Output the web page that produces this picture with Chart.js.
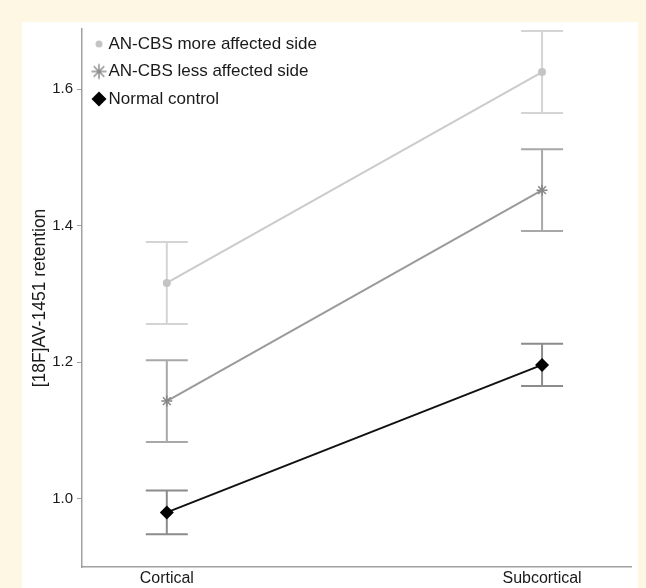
<!DOCTYPE html>
<html>
<head>
<meta charset="utf-8">
<script src="https://cdn.jsdelivr.net/npm/chart.js@4"></script>
<style>
  html, body { margin: 0; padding: 0; background: #fdf7e3; }
  #panel { position: absolute; left: 22px; top: 22px; width: 616px; height: 566px; background: #ffffff; }
</style>
</head>
<body>
<div id="panel"><canvas id="myChart" width="616" height="566"></canvas></div>
<script>
'use strict';

// data
const categories = ['Cortical', 'Subcortical'];
const yTicks = [1.0, 1.2, 1.4, 1.6];
const moreAffected = [1.316, 1.625];
const moreAffectedErr = [0.060, 0.060];
const lessAffected = [1.143, 1.452];
const lessAffectedErr = [0.060, 0.060];
const normalControl = [0.980, 1.196];
const normalControlErr = [0.032, 0.031];

const fontFamily = '"Liberation Sans", Arial, sans-serif';

function toPoints(values) {
  return values.map((v, i) => ({ x: i, y: v }));
}

// small canvas used as legend marker so each one can have its own size
function legendMarker(style, radius, fill, stroke, lineWidth) {
  const c = document.createElement('canvas');
  c.width = 20;
  c.height = 20;
  const ctx = c.getContext('2d');
  ctx.fillStyle = fill;
  ctx.strokeStyle = stroke;
  ctx.lineWidth = lineWidth;
  ctx.beginPath();
  Chart.helpers.drawPoint(ctx, { pointStyle: style, radius: radius, rotation: 0, borderWidth: lineWidth }, 10, 10);
  return c;
}

// draws the error bars (mean +/- err) behind the markers
const errorBars = {
  id: 'errorBars',
  beforeDatasetsDraw(chart) {
    const ctx = chart.ctx;
    const xs = chart.scales.x;
    const ys = chart.scales.y;
    chart.data.datasets.forEach((ds) => {
      ctx.save();
      ctx.strokeStyle = ds.errColor;
      ctx.lineWidth = 2;
      ds.data.forEach((p, i) => {
        const x = xs.getPixelForValue(p.x);
        const top = ys.getPixelForValue(p.y + ds.err[i]);
        const bot = ys.getPixelForValue(p.y - ds.err[i]);
        ctx.beginPath();
        ctx.moveTo(x, top);
        ctx.lineTo(x, bot);
        ctx.moveTo(x - 21, top);
        ctx.lineTo(x + 21, top);
        ctx.moveTo(x - 21, bot);
        ctx.lineTo(x + 21, bot);
        ctx.stroke();
      });
      ctx.restore();
    });
  }
};

// nudge the legend a bit inside the plot
const legendShift = {
  id: 'legendShift',
  afterLayout(chart) {
    chart.legend.left += 5.5;
    chart.legend.top += 3;
  }
};

const data = {
  datasets: [{
    label: 'AN-CBS more affected side',
    data: toPoints(moreAffected),
    err: moreAffectedErr,
    errColor: '#d4d4d4',
    borderColor: '#cbcbcb',
    backgroundColor: '#c4c4c4',
    pointStyle: 'circle',
    pointRadius: 4,
    pointBorderWidth: 0,
    borderWidth: 2,
    legendStyle: legendMarker('circle', 3.5, '#c4c4c4', '#c4c4c4', 0)
  },
  {
    label: 'AN-CBS less affected side',
    data: toPoints(lessAffected),
    err: lessAffectedErr,
    errColor: '#a8a8a8',
    borderColor: '#9a9a9a',
    backgroundColor: '#8a8a8a',
    pointBorderColor: '#888888',
    pointStyle: 'star',
    pointRadius: 5.5,
    pointBorderWidth: 1.5,
    borderWidth: 2,
    legendStyle: legendMarker('star', 7.5, '#909090', '#909090', 1.5)
  },
  {
    label: 'Normal control',
    data: toPoints(normalControl),
    err: normalControlErr,
    errColor: '#8c8c8c',
    borderColor: '#111111',
    backgroundColor: '#000000',
    pointStyle: 'rectRot',
    pointRadius: 7,
    pointBorderWidth: 0,
    borderWidth: 2,
    legendStyle: legendMarker('rectRot', 7.5, '#000000', '#000000', 0)
  }]
};

const config = {
  type: 'line',
  data: data,
  options: {
    responsive: false,
    animation: false,
    layout: { padding: { top: 0, right: 6, bottom: 0, left: 0 } },
    plugins: {
      tooltip: { enabled: false },
      legend: {
        position: 'chartArea',
        align: 'start',
        labels: {
          usePointStyle: true,
          boxWidth: 2,
          boxHeight: 2,
          padding: 10.5,
          color: '#1a1a1a',
          font: { family: fontFamily, size: 17 },
          generateLabels(chart) {
            return chart.data.datasets.map((ds, i) => ({
              text: ds.label,
              pointStyle: ds.legendStyle,
              fontColor: '#1a1a1a',
              datasetIndex: i,
              hidden: false,
              lineWidth: 0
            }));
          }
        }
      }
    },
    scales: {
      x: {
        type: 'linear',
        min: -0.226,
        max: 1.237,
        afterFit(scale) {
          scale.height = 21;
          scale.paddingLeft = 0;
          scale.paddingRight = 0;
        },
        afterBuildTicks(scale) { scale.ticks = categories.map((c, i) => ({ value: i })); },
        ticks: {
          padding: 2,
          color: '#1a1a1a',
          font: { family: fontFamily, size: 16 },
          callback: (v) => categories[v]
        },
        grid: { display: false, tickLength: 0 },
        border: { display: true, color: '#a0a0a0', width: 1.5 }
      },
      y: {
        min: 0.9,
        max: 1.688,
        afterFit(scale) {
          scale.width = 60;
          scale.paddingTop = 0;
          scale.paddingBottom = 0;
        },
        afterBuildTicks(scale) { scale.ticks = yTicks.map((v) => ({ value: v })); },
        ticks: {
          padding: 4,
          color: '#1a1a1a',
          font: { family: fontFamily, size: 15 },
          callback: (v) => v.toFixed(1)
        },
        grid: { drawOnChartArea: false, tickLength: 5, color: '#a0a0a0' },
        border: { display: true, color: '#a0a0a0', width: 1.5 },
        title: {
          display: true,
          text: '[18F]AV-1451 retention',
          color: '#1a1a1a',
          padding: { top: 7.5, bottom: 0 },
          font: { family: fontFamily, size: 17.5 }
        }
      }
    }
  },
  plugins: [errorBars, legendShift]
};

const myChart = new Chart(document.getElementById('myChart'), config);
</script>
</body>
</html>
